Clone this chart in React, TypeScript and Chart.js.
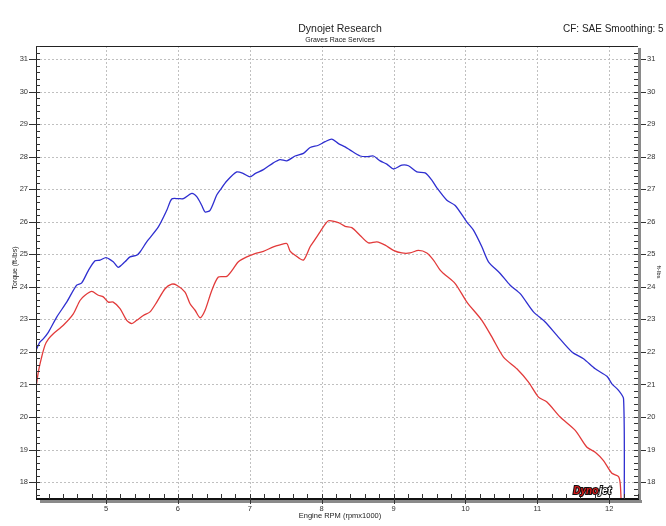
import React, { useEffect, useRef } from "react";
import { Chart, registerables } from "chart.js";

Chart.register(...registerables);

// ---- data ----
const blueRpm = [
  4.026, 4.08, 4.127, 4.197, 4.314, 4.453, 4.592, 4.662, 4.754, 4.847, 4.917, 5.0, 5.1, 5.17,
  5.264, 5.334, 5.427, 5.473, 5.566, 5.728, 5.845, 5.914, 6.006, 6.076, 6.193, 6.262, 6.332,
  6.378, 6.447, 6.54, 6.586, 6.68, 6.819, 6.911, 7.004, 7.073, 7.189, 7.328, 7.421, 7.515,
  7.63, 7.746, 7.839, 7.954, 8.048, 8.141, 8.233, 8.326, 8.396, 8.535, 8.628, 8.72, 8.813,
  8.906, 8.998, 9.115, 9.207, 9.324, 9.439, 9.532, 9.6, 9.741, 9.857, 10.02, 10.111, 10.228,
  10.32, 10.483, 10.622, 10.761, 10.946, 11.109, 11.272, 11.481, 11.642, 11.805, 11.968,
  12.037, 12.129, 12.199, 12.21,
];
const blueTorque = [
  22.05, 22.3, 22.4, 22.6, 23.07, 23.53, 24.05, 24.12, 24.5, 24.8, 24.82, 24.9, 24.77, 24.6,
  24.77, 24.92, 24.97, 25.07, 25.38, 25.84, 26.35, 26.7, 26.71, 26.71, 26.87, 26.77, 26.5,
  26.3, 26.35, 26.82, 26.97, 27.25, 27.53, 27.48, 27.38, 27.48, 27.6, 27.81, 27.91, 27.87,
  28.02, 28.1, 28.28, 28.35, 28.46, 28.54, 28.4, 28.3, 28.2, 28.02, 28.0, 28.02, 27.87,
  27.77, 27.62, 27.74, 27.72, 27.53, 27.5, 27.28, 27.05, 26.66, 26.5, 25.99, 25.74, 25.23,
  24.77, 24.41, 24.05, 23.79, 23.23, 22.92, 22.51, 22.0, 21.79, 21.48, 21.25,
  21.02, 20.82, 20.56, 17.45,
];
const redRpm = [
  4.026, 4.06, 4.1, 4.15, 4.2, 4.267, 4.406, 4.545, 4.638, 4.708, 4.801, 4.893, 4.962, 5.032,
  5.1, 5.195, 5.288, 5.358, 5.427, 5.519, 5.612, 5.706, 5.821, 5.914, 5.984, 6.099, 6.169,
  6.239, 6.308, 6.378, 6.471, 6.563, 6.68, 6.771, 6.841, 6.958, 7.073, 7.189, 7.328, 7.421,
  7.515, 7.56, 7.63, 7.746, 7.839, 7.885, 7.978, 8.094, 8.233, 8.326, 8.419, 8.535, 8.65,
  8.767, 8.883, 8.998, 9.115, 9.23, 9.346, 9.463, 9.555, 9.648, 9.7, 9.857, 10.02, 10.228,
  10.367, 10.529, 10.715, 10.877, 11.016, 11.133, 11.318, 11.527, 11.69, 11.805, 11.92,
  12.037, 12.129, 12.153, 12.165,
];
const redTorque = [
  20.9, 21.4, 21.8, 22.2, 22.4, 22.56, 22.82, 23.17, 23.58, 23.74, 23.86, 23.74, 23.69, 23.53,
  23.53, 23.33, 22.97, 22.87, 22.97, 23.12, 23.23, 23.53, 23.94, 24.08, 24.05, 23.84, 23.48,
  23.28, 23.05, 23.28, 23.89, 24.3, 24.32, 24.56, 24.77, 24.92, 25.02, 25.09, 25.23, 25.29,
  25.33, 25.1, 24.97, 24.82, 25.23, 25.38, 25.69, 26.03, 25.97, 25.86, 25.82, 25.58, 25.35,
  25.38, 25.28, 25.12, 25.04, 25.04, 25.12, 25.04, 24.82, 24.51, 24.4, 24.1, 23.53, 22.97,
  22.46, 21.84, 21.48, 21.07, 20.61, 20.46, 20.0, 19.59, 19.07, 18.92, 18.66,
  18.27, 18.17, 17.95, 17.45,
];
const xTicks = [5, 6, 7, 8, 9, 10, 11, 12];
const yTicks = [18, 19, 20, 21, 22, 23, 24, 25, 26, 27, 28, 29, 30, 31];

const titleText = "Dynojet Research";
const subtitleText = "Graves Race Services";
const cfText = "CF: SAE Smoothing: 5";
const xTitle = "Engine RPM (rpmx1000)";
const yTitle = "Torque (ft-lbs)";
const rightTitle = "ft-lbs";
const logoA = "Dyno";
const logoB = "jet";

const X_MIN = 4.026;
const X_MAX = 12.4;
const Y_MIN = 17.48;
const Y_MAX = 31.4;

const FONT = "'Liberation Sans', 'DejaVu Sans', sans-serif";
const TICK_COLOR = "#333333";

function seg(ctx: CanvasRenderingContext2D, x1: number, y1: number, x2: number, y2: number) {
  ctx.beginPath();
  ctx.moveTo(x1, y1);
  ctx.lineTo(x2, y2);
  ctx.stroke();
}

const decorPlugin = {
  id: "decor",
  beforeDatasetsDraw(chart: any) {
    const { ctx, chartArea: a, scales } = chart;
    const xs = scales.x;
    const ys = scales.y;
    ctx.save();
    ctx.strokeStyle = "#c0c0c0";
    ctx.lineWidth = 1;
    ctx.setLineDash([2, 2]);
    xTicks.forEach((v) => {
      const px = Math.round(xs.getPixelForValue(v)) + 0.5;
      seg(ctx, px, a.top, px, a.bottom);
    });
    yTicks.forEach((v) => {
      const py = Math.round(ys.getPixelForValue(v)) + 0.5;
      seg(ctx, a.left, py, a.right, py);
    });
    ctx.restore();
  },
  afterDatasetsDraw(chart: any) {
    const { ctx, chartArea: a, scales } = chart;
    const xs = scales.x;
    const ys = scales.y;
    ctx.save();
    ctx.setLineDash([]);
    // frame: top + left
    ctx.strokeStyle = "#222";
    ctx.lineWidth = 1;
    seg(ctx, a.left, a.top + 0.5, a.right, a.top + 0.5);
    seg(ctx, a.left + 0.5, a.top, a.left + 0.5, a.bottom + 1);
    // right gray bar
    ctx.fillStyle = "#8a8a8a";
    ctx.fillRect(a.right, a.top + 2, 3, a.bottom - a.top + 2);
    // bottom thick axis + shadow
    ctx.fillStyle = "#8a8a8a";
    ctx.fillRect(a.left + 4, a.bottom + 1, a.right - a.left, 3);
    ctx.fillStyle = "#111";
    ctx.fillRect(a.left, a.bottom - 1, a.right - a.left + 1, 2);

    ctx.strokeStyle = "#333";
    ctx.lineWidth = 1;
    // y minor/major ticks
    for (let i = Math.ceil(Y_MIN * 5); i <= Math.floor(Y_MAX * 5); i++) {
      const v = i / 5;
      const py = Math.round(ys.getPixelForValue(v)) + 0.5;
      const major = i % 5 === 0;
      if (major) {
        seg(ctx, a.left - 7, py, a.left, py);
        seg(ctx, a.right + 3, py, a.right + 8, py);
      }
      seg(ctx, a.left, py, a.left + 4, py);
      seg(ctx, a.right - 4, py, a.right, py);
    }
    // x minor/major ticks
    for (let i = Math.ceil(X_MIN * 5); i <= Math.floor(X_MAX * 5); i++) {
      const v = i / 5;
      const px = Math.round(xs.getPixelForValue(v)) + 0.5;
      const major = i % 5 === 0;
      seg(ctx, px, a.bottom - 5, px, a.bottom);
      if (major) seg(ctx, px, a.bottom, px, a.bottom + 5);
    }

    // logo
    const lx = xs.getPixelForValue(11.5);
    const ly = a.bottom - 8;
    ctx.font = `italic bold 10px ${FONT}`;
    ctx.textBaseline = "middle";
    ctx.textAlign = "left";
    ctx.lineWidth = 2;
    ctx.strokeStyle = "#111";
    ctx.fillStyle = "#d41a1a";
    ctx.strokeText(logoA, lx, ly);
    ctx.fillText(logoA, lx, ly);
    const wA = ctx.measureText(logoA).width;
    ctx.fillStyle = "#ffffff";
    ctx.strokeText(logoB, lx + wA + 1, ly);
    ctx.fillText(logoB, lx + wA + 1, ly);
    ctx.restore();
  },
  afterDraw(chart: any) {
    const { ctx, chartArea: a } = chart;
    ctx.save();
    ctx.fillStyle = "#222";
    ctx.textBaseline = "middle";
    ctx.textAlign = "center";
    ctx.font = `10.5px ${FONT}`;
    ctx.fillText(titleText, 340, 29);
    ctx.font = `7px ${FONT}`;
    ctx.fillText(subtitleText, 340, 40);
    ctx.textAlign = "left";
    ctx.font = `10px ${FONT}`;
    ctx.fillText(cfText, 563, 29);
    ctx.textAlign = "center";
    ctx.font = `7.5px ${FONT}`;
    ctx.fillText(xTitle, (a.left + a.right) / 2 + 3, 516);
    ctx.save();
    ctx.translate(15, 268);
    ctx.rotate(-Math.PI / 2);
    ctx.font = `7px ${FONT}`;
    ctx.fillText(yTitle, 0, 0);
    ctx.restore();
    ctx.save();
    ctx.translate(659, 272);
    ctx.rotate(Math.PI / 2);
    ctx.font = `6px ${FONT}`;
    ctx.fillText(rightTitle, 0, 0);
    ctx.restore();
    ctx.restore();
  },
};

export default function App() {
  const ref = useRef<HTMLCanvasElement | null>(null);
  useEffect(() => {
    if (!ref.current) return;
    const tickFont = { family: FONT, size: 7.5 };
    const chart = new Chart(ref.current, {
      type: "line",
      data: {
        datasets: [
          {
            label: "Run 1",
            data: blueRpm.map((r, i) => ({ x: r, y: blueTorque[i] })),
            borderColor: "#2f2fd0",
            borderWidth: 1.3,
            pointRadius: 0,
            tension: 0.25,
            fill: false,
          },
          {
            label: "Run 2",
            data: redRpm.map((r, i) => ({ x: r, y: redTorque[i] })),
            borderColor: "#e23a3a",
            borderWidth: 1.3,
            pointRadius: 0,
            tension: 0.25,
            fill: false,
          },
        ],
      },
      options: {
        animation: false,
        responsive: false,
        maintainAspectRatio: false,
        layout: { padding: { top: 46, left: 0, right: 0, bottom: 0 } },
        plugins: { legend: { display: false }, tooltip: { enabled: false }, title: { display: false } },
        scales: {
          x: {
            type: "linear",
            min: X_MIN,
            max: X_MAX,
            afterBuildTicks: (s: any) => {
              s.ticks = xTicks.map((v) => ({ value: v }));
            },
            afterFit: (s: any) => {
              s.height = 27;
            },
            ticks: { font: tickFont, color: TICK_COLOR, padding: 5, maxRotation: 0, autoSkip: false, callback: (v: any) => String(v) },
            grid: { display: false, drawTicks: false },
            border: { display: false },
          },
          y: {
            type: "linear",
            position: "left",
            min: Y_MIN,
            max: Y_MAX,
            afterBuildTicks: (s: any) => {
              s.ticks = yTicks.map((v) => ({ value: v }));
            },
            afterFit: (s: any) => {
              s.width = 36;
            },
            ticks: { font: tickFont, color: TICK_COLOR, padding: 8, autoSkip: false, callback: (v: any) => String(v) },
            grid: { display: false, drawTicks: false },
            border: { display: false },
          },
          y2: {
            type: "linear",
            position: "right",
            min: Y_MIN,
            max: Y_MAX,
            afterBuildTicks: (s: any) => {
              s.ticks = yTicks.map((v) => ({ value: v }));
            },
            afterFit: (s: any) => {
              s.width = 28;
            },
            ticks: { font: tickFont, color: TICK_COLOR, padding: 9, autoSkip: false, callback: (v: any) => String(v) },
            grid: { display: false, drawTicks: false },
            border: { display: false },
          },
        },
      },
      plugins: [decorPlugin],
    } as any);
    return () => chart.destroy();
  }, []);
  return (
    <div style={{ position: "absolute", left: 0, top: 0, width: 666, height: 526, background: "#fff" }}>
      <canvas ref={ref} width={666} height={526} style={{ width: 666, height: 526, display: "block" }} />
    </div>
  );
}
